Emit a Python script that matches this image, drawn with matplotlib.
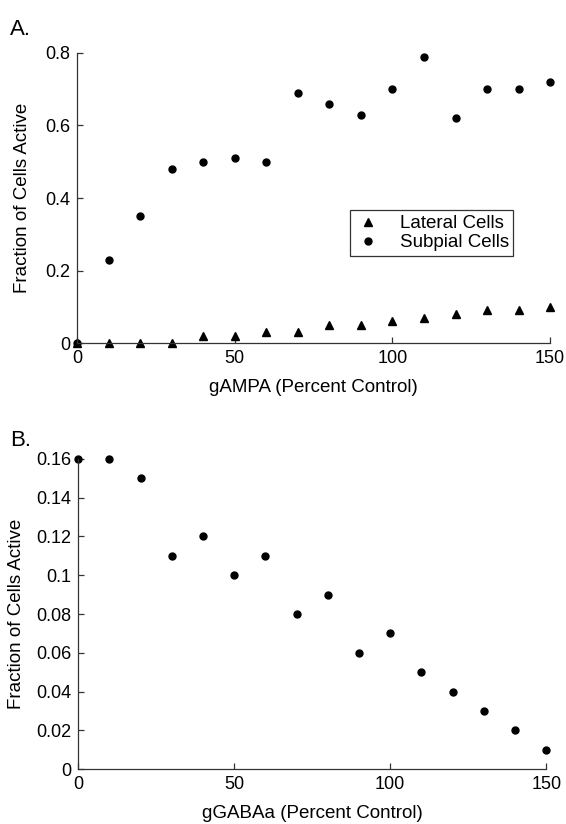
import matplotlib
matplotlib.use('Agg')
import matplotlib.pyplot as plt

plt.rcParams['font.family'] = ['Liberation Sans', 'DejaVu Sans']

# conductance as percent of control
g_pct = [0, 10, 20, 30, 40, 50, 60, 70, 80, 90, 100, 110, 120, 130, 140, 150]

# panel A: gAMPA sweep
lateral = [0, 0, 0, 0, 0.02, 0.02, 0.03, 0.03, 0.05, 0.05, 0.06, 0.07, 0.08, 0.09, 0.09, 0.10]
subpial = [0, 0.23, 0.35, 0.48, 0.50, 0.51, 0.50, 0.69, 0.66, 0.63, 0.70, 0.79, 0.62, 0.70, 0.70, 0.72]

# panel B: gGABAa sweep
gaba_frac = [0.16, 0.16, 0.15, 0.11, 0.12, 0.10, 0.11, 0.08, 0.09, 0.06, 0.07, 0.05, 0.04, 0.03, 0.02, 0.01]

fig = plt.figure(figsize=(5.66, 8.24), dpi=100)
axA = fig.add_axes([0.136, 0.5837, 0.836, 0.352])
axB = fig.add_axes([0.138, 0.0667, 0.827, 0.3763])

axis_col = '#333333'


def style(ax):
    for s in ('top', 'right'):
        ax.spines[s].set_visible(False)
    for s in ('left', 'bottom'):
        ax.spines[s].set_linewidth(0.9)
        ax.spines[s].set_color(axis_col)
    ax.tick_params(direction='in', length=4, width=0.9, color=axis_col,
                   labelsize=13, pad=5)
    ax.set_xlim(0, 150)
    ax.set_xticks([0, 50, 100, 150])


axA.plot(g_pct, lateral, 'k^', markersize=5.5, linestyle='none', label='Lateral Cells')
axA.plot(g_pct, subpial, 'ko', markersize=5, linestyle='none', label='Subpial Cells')
style(axA)
axA.set_ylim(0, 0.8)
axA.set_yticks([0, 0.2, 0.4, 0.6, 0.8])
axA.set_yticklabels(['0', '0.2', '0.4', '0.6', '0.8'])
axA.set_xlabel('gAMPA (Percent Control)', fontsize=13.5, labelpad=9)
axA.set_ylabel('Fraction of Cells Active', fontsize=13.5, labelpad=10)
leg = axA.legend(loc='upper left', bbox_to_anchor=(0.577, 0.457), fontsize=13.5,
                 frameon=True, fancybox=False, edgecolor='black', handletextpad=1.0,
                 borderpad=0.25, borderaxespad=0, labelspacing=0.1, handlelength=1.4)
leg.get_frame().set_linewidth(0.9)

axB.plot(g_pct, gaba_frac, 'ko', markersize=5, linestyle='none')
style(axB)
axB.set_ylim(0, 0.16)
axB.set_yticks([0, 0.02, 0.04, 0.06, 0.08, 0.1, 0.12, 0.14, 0.16])
axB.set_yticklabels(['0', '0.02', '0.04', '0.06', '0.08', '0.1', '0.12', '0.14', '0.16'])
axB.set_xlabel('gGABAa (Percent Control)', fontsize=13.5, labelpad=9)
axB.set_ylabel('Fraction of Cells Active', fontsize=13.5, labelpad=8)

# let markers sitting on the axes draw in full
for ax in (axA, axB):
    for line in ax.get_lines():
        line.set_clip_on(False)

fig.text(0.018, 0.977, 'A.', fontsize=16, va='top', ha='left')
fig.text(0.018, 0.478, 'B.', fontsize=16, va='top', ha='left')

fig.savefig('out.png', dpi=100)
